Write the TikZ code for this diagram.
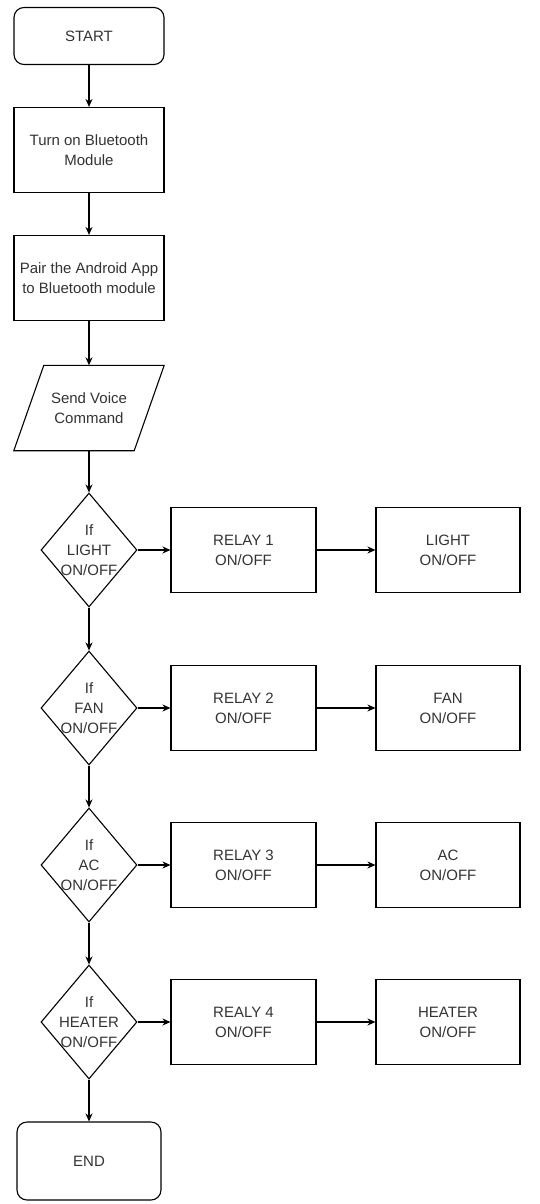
\documentclass[tikz,border=0pt]{standalone}
\usepackage{fontspec}
\setmainfont{Liberation Sans}
\usetikzlibrary{arrows.meta,positioning,calc,shapes.geometric}
\definecolor{ink}{HTML}{000000}
\definecolor{words}{HTML}{333333}
\newcommand{\flowfont}{\fontsize{15}{20}\selectfont}
\tikzset{
  terminal/.style={draw=ink, rounded corners=10pt, line width=1.1pt, align=center,
                   text=words, font=\flowfont, inner sep=0pt},
  procbox/.style={draw=ink, line width=1.1pt, align=center, text=words,
                  font=\flowfont, inner sep=0pt},
  iobox/.style={align=center, text=words, font=\flowfont, inner sep=0pt},
  decision/.style={draw=ink, line width=1.1pt, diamond, inner sep=0pt,
                   minimum width=96pt, minimum height=114pt},
  arrow/.style={-{Stealth[length=8pt,width=7pt]}, line width=1.1pt, draw=ink}
}
\begin{document}
\begin{tikzpicture}[x=1pt,y=-1pt]
        \useasboundingbox (0,0) rectangle (540,1204);
        \node[terminal,minimum width=150pt,minimum height=57pt] (start) at (89,36) {START};
        \node[procbox,minimum width=150pt,minimum height=85pt] (turn) at (89,150)
          {Turn on Bluetooth\\Module};
        \node[procbox,minimum width=150pt,minimum height=85pt] (pair) at (89,278)
          {Pair the Android App\\to Bluetooth module};
        \node[iobox,minimum width=150pt,minimum height=85pt] (voice) at (89,408)
          {Send Voice\\Command};
        % slanted input box
        \draw[ink,line width=1.1pt,line join=miter] (voice.south west) -- ($(voice.north west)+(30,0)$)
          -- (voice.north east) -- ($(voice.south east)-(30,0)$) -- cycle;
        \draw[arrow] (start) -- (turn);
        \draw[arrow] (turn) -- (pair);
        \draw[arrow] (pair) -- (voice);
        \foreach \i/\y/\dev/\rel in {1/550/LIGHT/RELAY 1,2/708/FAN/RELAY 2,
                                     3/865/AC/RELAY 3,4/1022/HEATER/REALY 4} {
          \node[decision,label={[font=\flowfont,text=words,align=center]center:If\\\dev\\ON/OFF}]
            (d\i) at (89,\y) {};
          \node[procbox,minimum width=145pt,minimum height=85pt] (r\i) at (243.5,\y)
            {\rel\\ON/OFF};
          \node[procbox,minimum width=144pt,minimum height=85pt] (o\i) at (448,\y)
            {\dev\\ON/OFF};
          \draw[arrow] (d\i) -- (r\i);
          \draw[arrow] (r\i) -- (o\i);
        }
        \draw[arrow] (voice.south) -- (d1.north);
        \foreach \i/\j in {1/2,2/3,3/4}
          {\draw[arrow] (d\i) -- (d\j);}
        \node[terminal,minimum width=144pt,minimum height=78pt] (end) at (89,1161) {END};
        \draw[arrow] (d4) -- (end);
      \end{tikzpicture}
\end{document}
